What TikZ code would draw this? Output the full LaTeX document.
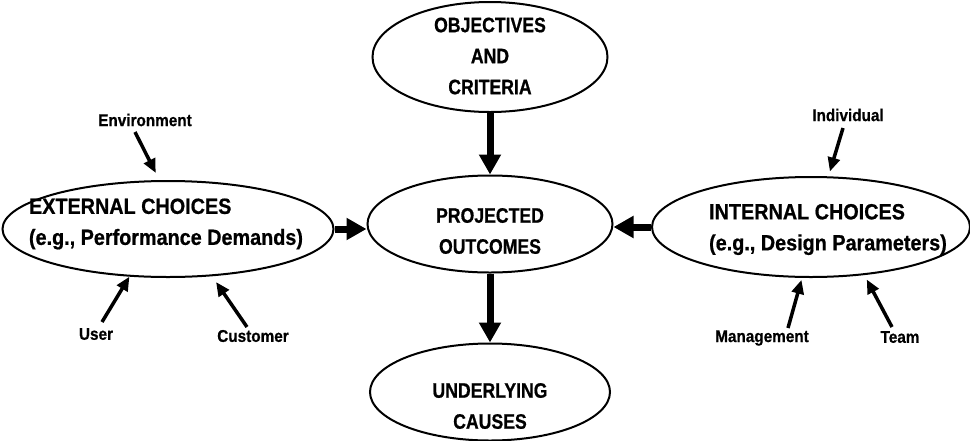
\documentclass[tikz,border=0pt]{standalone}
\usepackage{fontspec}
\setmainfont[FakeStretch=0.9,BoldFeatures={FakeBold=0.7}]{Liberation Sans}
\newfontfamily\narrowfont[FakeStretch=0.84,BoldFeatures={FakeBold=0.7}]{Liberation Sans}
\usetikzlibrary{shapes.geometric,arrows.meta}

\begin{document}
\begin{tikzpicture}[x=1pt,y=-1pt]
  \useasboundingbox (0,0) rectangle (970,440);

  % ellipses
  \begin{scope}[every node/.style={ellipse,draw,line width=2pt,inner sep=0pt}]
    \node[minimum width=235pt,minimum height=110pt] (obj)  at (490,57)  {};
    \node[minimum width=245pt,minimum height=97pt]  (proj) at (490,224) {};
    \node[minimum width=240pt,minimum height=97pt]  (und)  at (490,392) {};
    \node[minimum width=331pt,minimum height=96pt]  (ext)  at (168,229) {};
    \node[minimum width=318pt,minimum height=100pt] (int)  at (811,227) {};
  \end{scope}

  % texts in the ellipses
  \begin{scope}[every node/.style={font=\narrowfont\bfseries\fontsize{21}{31}\selectfont,align=center}]
    \node (obj-txt)  at (490,56)  {OBJECTIVES\\AND\\CRITERIA};
    \node (proj-txt) at (490,231) {PROJECTED\\OUTCOMES};
    \node (und-txt)  at (490,406) {UNDERLYING\\CAUSES};
  \end{scope}
  \begin{scope}[every node/.style={font=\bfseries\fontsize{22}{31}\selectfont,align=left}]
    \node (ext-txt) at (166,224)   {EXTERNAL CHOICES\\(e.g., Performance Demands)};
    \node (int-txt) at (828,229.5) {INTERNAL CHOICES\\(e.g., Design Parameters)};
  \end{scope}

  % small labels
  \begin{scope}[every node/.style={font=\bfseries\fontsize{17}{20}\selectfont}]
    \node (env)   at (145,120) {Environment};
    \node (user)  at (96,334)  {User};
    \node (cust)  at (253,336) {Customer};
    \node (indiv) at (848,115) {Individual};
    \node (mgmt)  at (762,338) {Management};
    \node (team)  at (900,337) {Team};
  \end{scope}

  \coordinate (env-t)   at (135,132);
  \coordinate (user-t)  at (102,322);
  \coordinate (cust-t)  at (247,327);
  \coordinate (indiv-t) at (843,128);
  \coordinate (mgmt-t)  at (788,328);
  \coordinate (team-t)  at (892,327);

  \begin{scope}[every edge/.style={draw,line width=7pt,-{Triangle[length=20pt,width=21pt]}}]
    \path (obj)       edge (proj);
    \path (proj)      edge (und);
    \path (ext.east)  edge (ext.east -| proj.west);
    \path (int.west)  edge (int.west -| proj.east);
  \end{scope}

  \begin{scope}[every edge/.style={draw,line width=3.5pt,-{Triangle[length=14pt,width=12pt]}}]
    \path (env-t)   edge[shorten >=8pt] (ext.100);
    \path (user-t)  edge (ext.231);
    \path (cust-t)  edge[shorten >=7pt] (ext.-47);
    \path (indiv-t) edge[shorten >=5pt] (int.71);
    \path (mgmt-t)  edge[shorten >=2pt] (int.260);
    \path (team-t)  edge[shorten >=5pt] (int.-42);
  \end{scope}

\end{tikzpicture}
\end{document}
